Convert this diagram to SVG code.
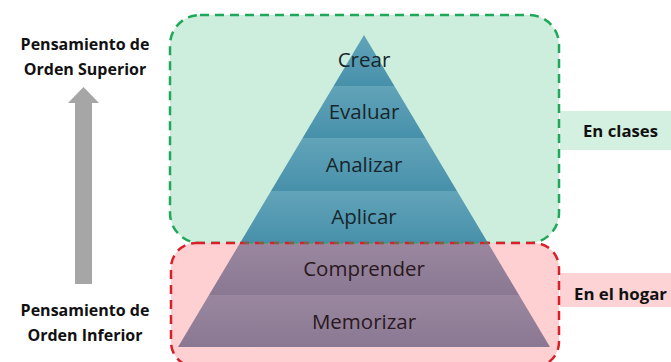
<svg xmlns="http://www.w3.org/2000/svg" width="671" height="362" viewBox="0 0 671 362">
<defs>
<style>
.side{font-family:"Open Sans","Liberation Sans",sans-serif;font-weight:bold;font-size:16px;fill:#111;text-anchor:middle}
.tag{font-family:"Open Sans","Liberation Sans",sans-serif;font-weight:bold;font-size:16px;fill:#111}
.lvl{font-family:"Open Sans","Liberation Sans",sans-serif;font-size:20.5px;text-anchor:middle}
.tl{fill:#17262c}
.pl{fill:#2a1820}
</style>
<linearGradient id="gt" x1="0" y1="0" x2="0" y2="1">
<stop offset="0" stop-color="#62a4b9"/><stop offset="1" stop-color="#4790aa"/>
</linearGradient>
<linearGradient id="gp" x1="0" y1="0" x2="0" y2="1">
<stop offset="0" stop-color="#9a879f"/><stop offset="1" stop-color="#8a7893"/>
</linearGradient>
</defs>
<rect width="671" height="362" fill="#ffffff"/>
<g id="region-clases">
<rect x="560" y="111" width="111" height="39" fill="#d3f0e0"/>
<text class="tag" x="583" y="137" textLength="75" lengthAdjust="spacingAndGlyphs">En clases</text>
</g>
<g id="region-hogar">
<rect x="560" y="273" width="111" height="34" fill="#fdd3d5"/>
<text class="tag" x="574" y="300" textLength="93" lengthAdjust="spacingAndGlyphs">En el hogar</text>
</g>
<g id="box-clases">
<rect x="170" y="15" width="389" height="228" rx="30" ry="30" fill="#cdeedc" stroke="#1fa85a" stroke-width="2.5" stroke-dasharray="9,6"/>
</g>
<g id="box-hogar">
<rect x="171" y="243" width="388" height="124" rx="25" ry="25" fill="#ffd0d2" stroke="#d9202a" stroke-width="2.5" stroke-dasharray="9,6"/>
</g>
<g id="crear">
<polygon points="364,35 394.4,86 333.6,86" fill="url(#gt)"/>
<text class="lvl tl" x="364" y="67">Crear</text>
</g>
<g id="evaluar">
<polygon points="333.6,86 394.4,86 425.4,138 302.6,138" fill="url(#gt)"/>
<text class="lvl tl" x="364" y="119">Evaluar</text>
</g>
<g id="analizar">
<polygon points="302.6,138 425.4,138 457,191 271,191" fill="url(#gt)"/>
<text class="lvl tl" x="364" y="172">Analizar</text>
</g>
<g id="aplicar">
<polygon points="271,191 457,191 488,243 240,243" fill="url(#gt)"/>
<text class="lvl tl" x="364" y="224">Aplicar</text>
</g>
<g id="comprender">
<polygon points="240,243 488,243 519,295 209,295" fill="url(#gp)"/>
<text class="lvl pl" x="364" y="276">Comprender</text>
</g>
<g id="memorizar">
<polygon points="209,295 519,295 550,347 178,347" fill="url(#gp)"/>
<text class="lvl pl" x="364" y="329">Memorizar</text>
</g>
<g id="boundary">
<line x1="240" y1="243" x2="488" y2="243" stroke="#d9202a" stroke-width="2.5" stroke-dasharray="9,6"/>
<line x1="240" y1="243" x2="488" y2="243" stroke="#1fa85a" stroke-width="1.2" stroke-dasharray="9,6" stroke-dashoffset="-4"/>
</g>
<g id="connectors">
<polygon points="83.5,87 99,103 92,103 92,284 75,284 75,103 68,103" fill="#a6a6a6"/>
</g>
<g id="label-superior">
<text class="side" x="85" y="50">Pensamiento de</text>
<text class="side" x="85" y="75">Orden Superior</text>
</g>
<g id="label-inferior">
<text class="side" x="85" y="316">Pensamiento de</text>
<text class="side" x="85" y="341">Orden Inferior</text>
</g>
</svg>
